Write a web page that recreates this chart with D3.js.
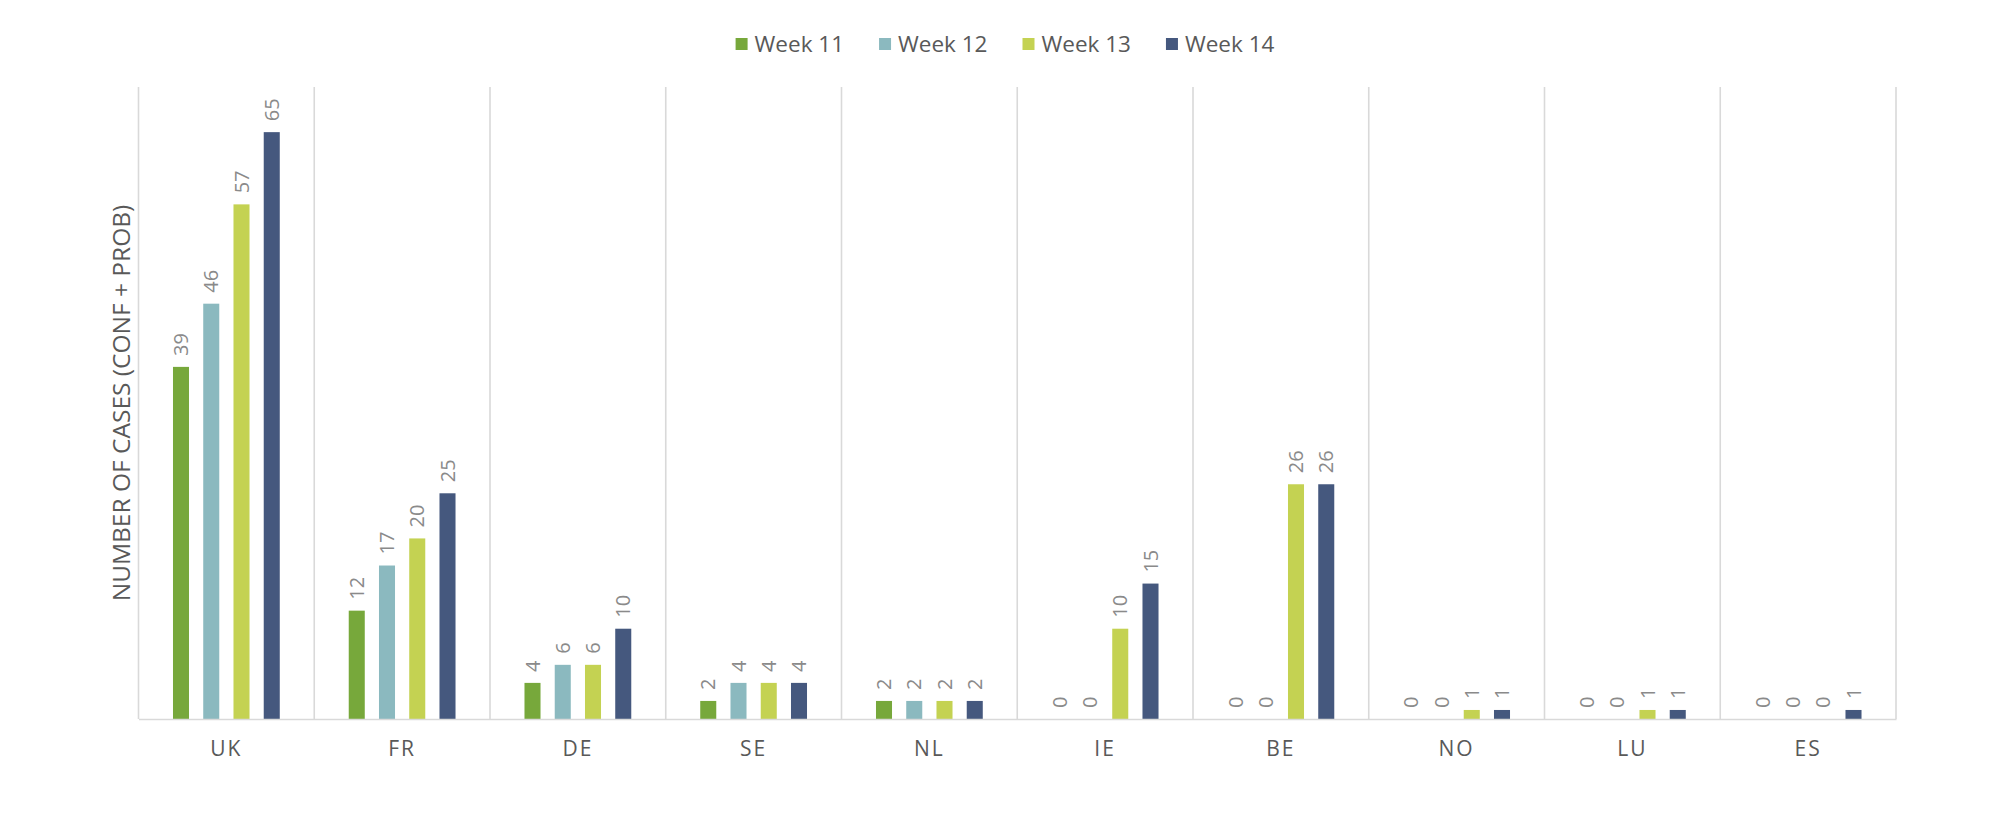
<!DOCTYPE html>
<html>
<head>
<meta charset="utf-8">
<script src="https://cdn.jsdelivr.net/npm/d3@7"></script>
<style>
  html, body { margin: 0; padding: 0; background: #ffffff; }
  svg { display: block; font-family: "Open Sans", "Noto Sans", sans-serif; }
</style>
</head>
<body>
<svg id="chart" width="1992" height="826"></svg>
<script>
const categories = ["UK", "FR", "DE", "SE", "NL", "IE", "BE", "NO", "LU", "ES"];
const seriesNames = ["Week 11", "Week 12", "Week 13", "Week 14"];
const week11 = [39, 12, 4, 2, 2, 0, 0, 0, 0, 0];
const week12 = [46, 17, 6, 4, 2, 0, 0, 0, 0, 0];
const week13 = [57, 20, 6, 4, 2, 10, 26, 1, 1, 0];
const week14 = [65, 25, 10, 4, 2, 15, 26, 1, 1, 1];
const seriesColors = ["#77a83b", "#8bb9bf", "#c4d252", "#45587e"];
const yTitle = "NUMBER OF CASES (CONF + PROB)";

const seriesValues = [week11, week12, week13, week14];

const svg = d3.select("#chart");
const margin = { left: 138.5, right: 1992 - 1896, top: 87, bottom: 826 - 719 };
const plotW = 1992 - margin.left - margin.right;
const plotH = 826 - margin.top - margin.bottom;

const x0 = d3.scaleBand().domain(categories).range([margin.left, margin.left + plotW]).padding(0);
const x1 = d3.scaleBand().domain(seriesNames).range([0, x0.bandwidth()])
  .paddingInner(0.47).paddingOuter(1.14);
const y = d3.scaleLinear().domain([0, 70]).range([margin.top + plotH, margin.top]);

// vertical gridlines at category boundaries
const gridG = svg.append("g");
const bounds = categories.map(c => x0(c)).concat([x0(categories[categories.length - 1]) + x0.bandwidth()]);
gridG.selectAll("line.v").data(bounds).join("line")
  .attr("x1", d => d).attr("x2", d => d)
  .attr("y1", y(70)).attr("y2", y(0))
  .attr("stroke", "#d9d9d9").attr("stroke-width", 1.6);

// bars
const barsG = svg.append("g");
categories.forEach((cat, ci) => {
  seriesNames.forEach((s, si) => {
    const v = seriesValues[si][ci];
    const bx = x0(cat) + x1(s);
    if (v > 0) {
      barsG.append("rect")
        .attr("x", bx).attr("width", x1.bandwidth())
        .attr("y", y(v)).attr("height", y(0) - y(v))
        .attr("fill", seriesColors[si]);
    }
    const cx = bx + x1.bandwidth() / 2;
    const ty = y(v) - 11;
    barsG.append("text")
      .attr("transform", `translate(${cx},${ty}) rotate(-90)`)
      .attr("dy", "0.36em")
      .attr("text-anchor", "start")
      .attr("font-size", 20)
      .attr("fill", "#8a8a8a")
      .text(v);
  });
});

// x axis baseline
const xAxis = d3.axisBottom(x0).tickSize(0).tickPadding(22);
const xg = svg.append("g").attr("transform", `translate(0,${y(0)})`).call(xAxis);
xg.select(".domain").attr("stroke", "#d9d9d9").attr("stroke-width", 1.6);
xg.selectAll("text")
  .attr("font-family", "\"Open Sans\", sans-serif")
  .attr("font-size", 21)
  .attr("letter-spacing", "2px")
  .attr("fill", "#595959");

// y axis title
svg.append("text")
  .attr("transform", `translate(121,${margin.top + plotH / 2}) rotate(-90)`)
  .attr("text-anchor", "middle")
  .attr("dy", "0.35em")
  .attr("font-size", 24.5)
  .attr("fill", "#595959")
  .text(yTitle);

// legend
const legG = svg.append("g");
let lx = 0;
seriesNames.forEach((s, i) => {
  const g = legG.append("g");
  g.append("rect").attr("x", 0).attr("y", -6).attr("width", 12).attr("height", 12).attr("fill", seriesColors[i]);
  const t = g.append("text").attr("x", 19).attr("dy", "0.36em")
    .attr("font-size", 22.5).attr("fill", "#595959").text(s);
  const w = 19 + t.node().getComputedTextLength();
  g.attr("transform", `translate(${lx},44)`);
  lx += w + 35;
});
const legW = lx - 35;
legG.attr("transform", `translate(${1005 - legW / 2},0)`);
</script>
</body>
</html>
